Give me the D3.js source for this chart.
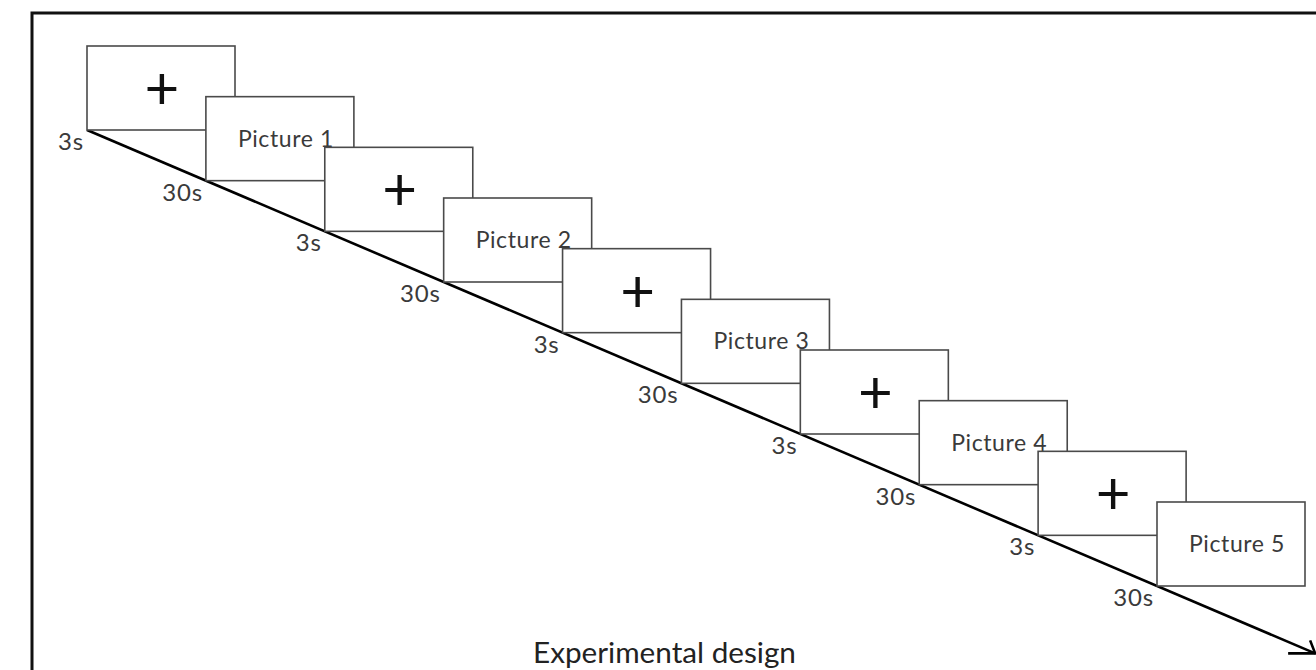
<!DOCTYPE html>
<html>
<head>
<meta charset="utf-8">
<script src="https://cdn.jsdelivr.net/npm/d3@7"></script>
<style>
  html, body { margin: 0; padding: 0; background: #fff; }
  svg { display: block; }
</style>
</head>
<body>
<svg id="chart" width="1316" height="670"></svg>
<script>
// ---- data ----
const steps = [0, 1, 2, 3, 4, 5, 6, 7, 8, 9];
const stimulusLabels = ["+", "Picture 1", "+", "Picture 2", "+", "Picture 3", "+", "Picture 4", "+", "Picture 5"];
const durationLabels = ["3s", "30s", "3s", "30s", "3s", "30s", "3s", "30s", "3s", "30s"];
const arrowEnd = 10.33;
const title = "Experimental design";

// ---- layout ----
const W = 1316, H = 670;
const boxW = 148, boxH = 84;
const svg = d3.select("#chart");

const x = d3.scaleLinear().domain([0, 9]).range([87, 1157]);
const y = d3.scaleLinear().domain([0, 9]).range([130, 586]);

// frame
svg.append("rect")
  .attr("x", 32).attr("y", 13)
  .attr("width", W).attr("height", H)
  .attr("fill", "none").attr("stroke", "#111").attr("stroke-width", 3);

// timeline
svg.append("line")
  .attr("x1", x(0)).attr("y1", y(0))
  .attr("x2", x(arrowEnd)).attr("y2", y(arrowEnd))
  .attr("stroke", "#000").attr("stroke-width", 2.6);

const tx = x(arrowEnd), ty = y(arrowEnd);
svg.append("path")
  .attr("d", `M${tx - 27},${ty} L${tx},${ty} L${tx - 5},${ty - 13}`)
  .attr("fill", "none").attr("stroke", "#000").attr("stroke-width", 2.6)
  .attr("stroke-linejoin", "miter");

// boxes
const g = svg.append("g");
steps.forEach(i => {
  const bx = x(i), by = y(i) - boxH;
  g.append("rect")
    .attr("x", bx).attr("y", by)
    .attr("width", boxW).attr("height", boxH)
    .attr("fill", "#fff").attr("stroke", "#4a4a4a").attr("stroke-width", 1.6);
  const lab = stimulusLabels[i];
  if (lab === "+") {
    g.append("text")
      .attr("x", bx + boxW / 2 + 1).attr("y", by + boxH / 2 - 2)
      .attr("text-anchor", "middle").attr("dominant-baseline", "central")
      .attr("font-family", "Lato").attr("font-weight", 400)
      .attr("font-size", 60).attr("fill", "#111")
      .text(lab);
  } else {
    g.append("text")
      .attr("x", bx + boxW / 2 + 6).attr("y", by + boxH / 2 + 8)
      .attr("text-anchor", "middle")
      .attr("font-family", "Lato").attr("font-size", 23)
      .attr("letter-spacing", 0.6)
      .attr("fill", "#3a3a3a")
      .text(lab);
  }
});

// duration labels
svg.append("g").selectAll("text")
  .data(steps)
  .join("text")
  .attr("x", i => x(i) - 3)
  .attr("y", i => y(i) + 20)
  .attr("text-anchor", "end")
  .attr("font-family", "Lato").attr("font-size", 24)
  .attr("letter-spacing", 0.8)
  .attr("fill", "#3a3a3a")
  .text(i => durationLabels[i]);

// title
svg.append("text")
  .attr("x", 533).attr("y", 663)
  .attr("font-family", "Lato").attr("font-size", 29.7)
  .attr("fill", "#222")
  .text(title);
</script>
</body>
</html>
